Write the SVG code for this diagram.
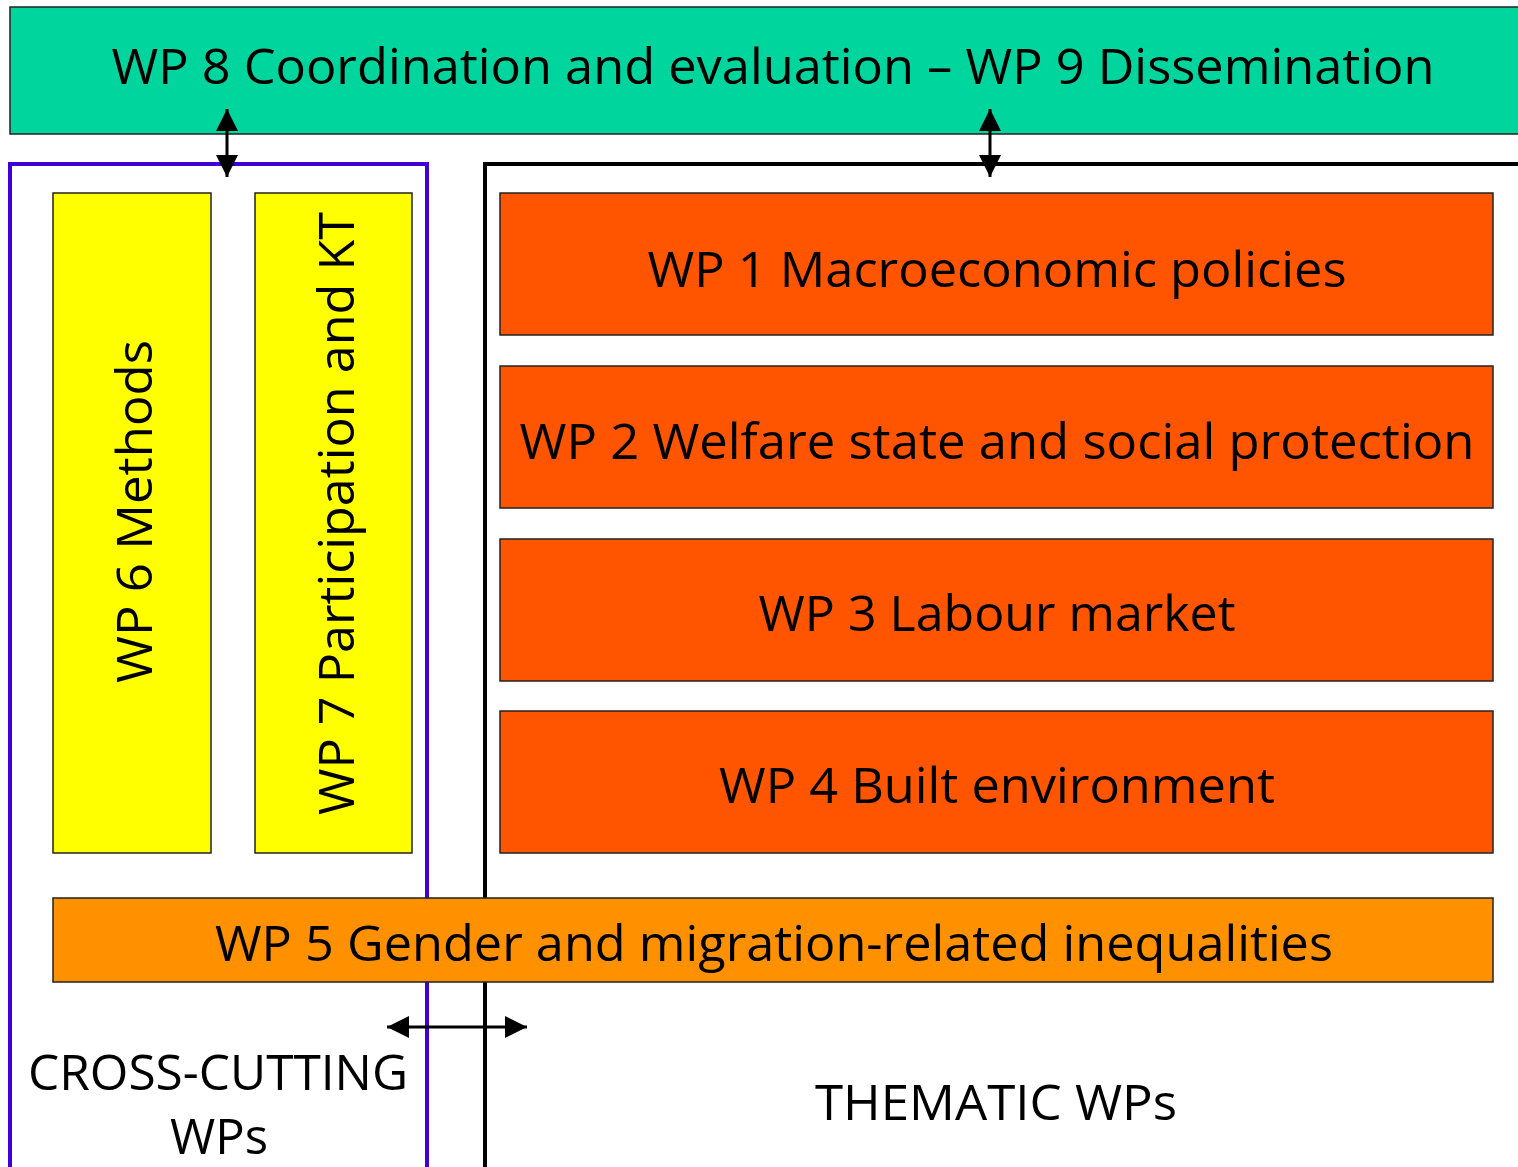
<svg xmlns="http://www.w3.org/2000/svg" width="1518" height="1167" viewBox="0 0 1518 1167">
<defs>
<style>
.t{font-family:"Open Sans","Liberation Sans",sans-serif;font-size:50px;fill:#000}
.box{stroke:#222;stroke-width:1.5}
.thin{fill:none;stroke:#000;stroke-width:3}
</style>
<marker id="ah" viewBox="0 0 10 10" refX="10" refY="5" markerWidth="22" markerHeight="22" markerUnits="userSpaceOnUse" orient="auto-start-reverse">
<path d="M0,0 L10,5 L0,10 z" fill="#000"/>
</marker>
</defs>
<rect width="1518" height="1167" fill="#fff"/>
<g id="wp89">
<rect class="box" x="10" y="7" width="1520" height="127" fill="#00D59D"/>
<text class="t" x="773" y="84" text-anchor="middle" textLength="1323" lengthAdjust="spacingAndGlyphs">WP 8 Coordination and evaluation – WP 9 Dissemination</text>
</g>
<g id="crosscutting">
<rect x="10" y="164" width="417" height="1020" fill="none" stroke="#3F00D8" stroke-width="4"/>
<text class="t" x="218" y="1090" text-anchor="middle" textLength="380" lengthAdjust="spacingAndGlyphs">CROSS-CUTTING</text>
<text class="t" x="219" y="1154" text-anchor="middle" textLength="98" lengthAdjust="spacingAndGlyphs">WPs</text>
</g>
<g id="thematic">
<path d="M485,1180 L485,164 L1530,164" fill="none" stroke="#000" stroke-width="4"/>
<text class="t" x="996" y="1120" text-anchor="middle" textLength="362" lengthAdjust="spacingAndGlyphs">THEMATIC WPs</text>
</g>
<g id="wp6">
<rect class="box" x="53" y="193" width="158" height="660" fill="#FFFF00"/>
<text class="t" transform="translate(152,683) rotate(-90)" x="0" y="0" textLength="343" lengthAdjust="spacingAndGlyphs">WP 6 Methods</text>
</g>
<g id="wp7">
<rect class="box" x="255" y="193" width="157" height="660" fill="#FFFF00"/>
<text class="t" transform="translate(354,815) rotate(-90)" x="0" y="0" textLength="603" lengthAdjust="spacingAndGlyphs">WP 7 Participation and KT</text>
</g>
<g id="wp1">
<rect class="box" x="500" y="193" width="993" height="142" fill="#FF5500"/>
<text class="t" x="997" y="287" text-anchor="middle" textLength="699" lengthAdjust="spacingAndGlyphs">WP 1 Macroeconomic policies</text>
</g>
<g id="wp2">
<rect class="box" x="500" y="366" width="993" height="142" fill="#FF5500"/>
<text class="t" x="997" y="459" text-anchor="middle" textLength="955" lengthAdjust="spacingAndGlyphs">WP 2 Welfare state and social protection</text>
</g>
<g id="wp3">
<rect class="box" x="500" y="539" width="993" height="142" fill="#FF5500"/>
<text class="t" x="997" y="631" text-anchor="middle" textLength="477" lengthAdjust="spacingAndGlyphs">WP 3 Labour market</text>
</g>
<g id="wp4">
<rect class="box" x="500" y="711" width="993" height="142" fill="#FF5500"/>
<text class="t" x="997" y="803" text-anchor="middle" textLength="556" lengthAdjust="spacingAndGlyphs">WP 4 Built environment</text>
</g>
<g id="wp5">
<rect class="box" x="53" y="898" width="1440" height="84" fill="#FF9100"/>
<text class="t" x="774" y="961" text-anchor="middle" textLength="1118" lengthAdjust="spacingAndGlyphs">WP 5 Gender and migration-related inequalities</text>
</g>
<g id="connectors">
<line class="thin" x1="227" y1="109" x2="227" y2="177" marker-start="url(#ah)" marker-end="url(#ah)"/>
<line class="thin" x1="990" y1="109" x2="990" y2="177" marker-start="url(#ah)" marker-end="url(#ah)"/>
<line class="thin" x1="387" y1="1027" x2="527" y2="1027" marker-start="url(#ah)" marker-end="url(#ah)"/>
</g>
</svg>
